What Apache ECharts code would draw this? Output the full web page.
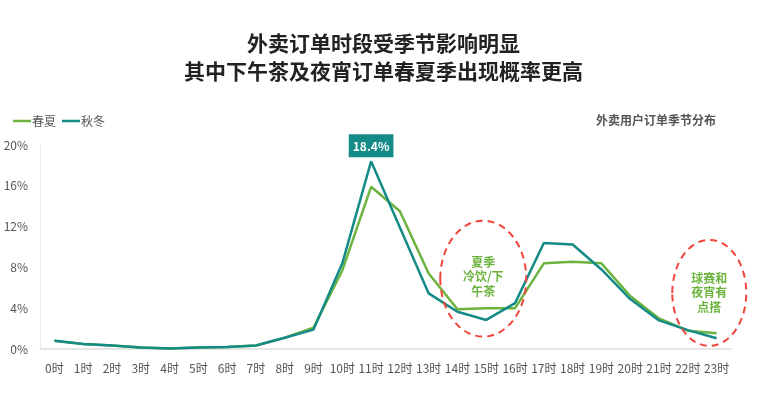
<!DOCTYPE html>
<html><head><meta charset="utf-8">
<script src="https://cdn.jsdelivr.net/npm/echarts@6/dist/echarts.min.js"></script>
<style>html,body{margin:0;padding:0;background:#fff}#c{width:767px;height:395px}</style>
</head><body><div id="c"></div>
<script>
const hours = ['0时','1时','2时','3时','4时','5时','6时','7时','8时','9时','10时','11时','12时','13时','14时','15时','16时','17时','18时','19时','20时','21时','22时','23时'];
const springSummer = [0.8,0.5,0.35,0.15,0.05,0.15,0.2,0.35,1.1,2.1,7.7,15.9,13.5,7.4,3.9,4.0,4.0,8.4,8.55,8.4,5.2,3.0,1.8,1.55];
const autumnWinter = [0.8,0.5,0.35,0.15,0.05,0.15,0.2,0.35,1.1,1.9,8.4,18.4,11.9,5.45,3.65,2.85,4.5,10.4,10.25,7.8,4.9,2.8,1.85,1.05];
const yTicks = [0,4,8,12,16,20];
const seriesNames = ['春夏','秋冬'];
const titleLines = ['外卖订单时段受季节影响明显','其中下午茶及夜宵订单春夏季出现概率更高'];
const subTitle = '外卖用户订单季节分布';
const notes = [
  {hour: 15, value: 6.9, text: '夏季\n冷饮/下\n午茶'},
  {hour: 22.85, value: 5.5, text: '球赛和\n夜宵有\n点搭'}
];
const peakIndex = 11;

const FONT = '"Noto Sans CJK SC", "Noto Sans", sans-serif';
const GREEN = '#6db33f', TEAL = '#148b86';
const chart = echarts.init(document.getElementById('c'));
chart.setOption({
  animation: false,
  textStyle: {fontFamily: FONT},
  title: [{
    text: titleLines.join('\n'), left: 'center', top: 24,
    textStyle: {fontFamily: FONT, fontSize: 21, fontWeight: 'bold', color: '#222', lineHeight: 28}
  },{
    text: subTitle, right: 46, top: 109,
    textStyle: {fontFamily: FONT, fontSize: 12, fontWeight: 'bold', color: '#555'}
  }],
  legend: {
    left: 8, top: 110, itemGap: 6, icon: 'rect', itemWidth: 18, itemHeight: 2.5,
    textStyle: {fontFamily: FONT, fontSize: 12, color: '#555', padding: [0,0,0,-4]},
    data: seriesNames
  },
  grid: {left: 40, right: 36, top: 145, bottom: 46, containLabel: false},
  xAxis: {
    type: 'category', data: hours, boundaryGap: true,
    axisLine: {lineStyle: {color: '#ddd', width: 1.5}},
    axisTick: {show: false},
    axisLabel: {color: '#555', fontSize: 12, margin: 13, interval: 0, fontFamily: FONT}
  },
  yAxis: {
    type: 'value', min: 0, max: 20, interval: 4,
    axisLine: {show: true, lineStyle: {color: '#eee'}},
    axisTick: {show: false},
    splitLine: {show: false},
    axisLabel: {color: '#555', fontSize: 12, margin: 12, formatter: v => yTicks.includes(v) ? v + '%' : '', fontFamily: FONT}
  },
  series: [{
    name: seriesNames[0], type: 'line', data: springSummer, symbol: 'none',
    lineStyle: {color: GREEN, width: 2.5}, itemStyle: {color: GREEN}, z: 2
  },{
    name: seriesNames[1], type: 'line', symbol: 'circle', symbolSize: 0, showSymbol: true,
    data: autumnWinter.map((v, i) => i === peakIndex ? {value: v, label: {
      show: true, position: 'top', distance: 4, formatter: p => p.value + '%',
      backgroundColor: TEAL, color: '#fff', fontWeight: 'bold', fontSize: 12, padding: [6, 4, 5, 4], fontFamily: FONT
    }} : v),
    lineStyle: {color: TEAL, width: 2.5}, itemStyle: {color: TEAL}, z: 3
  }]
});

function addNotes() {
  const els = [];
  notes.forEach(n => {
    const left = chart.convertToPixel({gridIndex: 0}, [Math.floor(n.hour), n.value]);
    const right = chart.convertToPixel({gridIndex: 0}, [Math.ceil(n.hour), n.value]);
    const frac = n.hour - Math.floor(n.hour);
    const cx = left[0] + (right[0] - left[0]) * frac - 3;
    const cy = left[1];
    els.push({
      type: 'ellipse', shape: {cx: cx, cy: cy, rx: n.hour > 20 ? 37 : 43, ry: n.hour > 20 ? 53 : 58},
      style: {fill: 'none', stroke: '#f0453a', lineWidth: 2, lineDash: [7, 5]}, z: 10
    });
    els.push({
      type: 'text', x: cx, y: cy + (n.hour > 20 ? 0 : -2),
      style: {text: n.text, fill: GREEN, font: 'bold 12px ' + FONT, align: 'center', verticalAlign: 'middle', lineHeight: 14.5},
      z: 11
    });
  });
  chart.setOption({graphic: els});
}
addNotes();
</script>
</body></html>
